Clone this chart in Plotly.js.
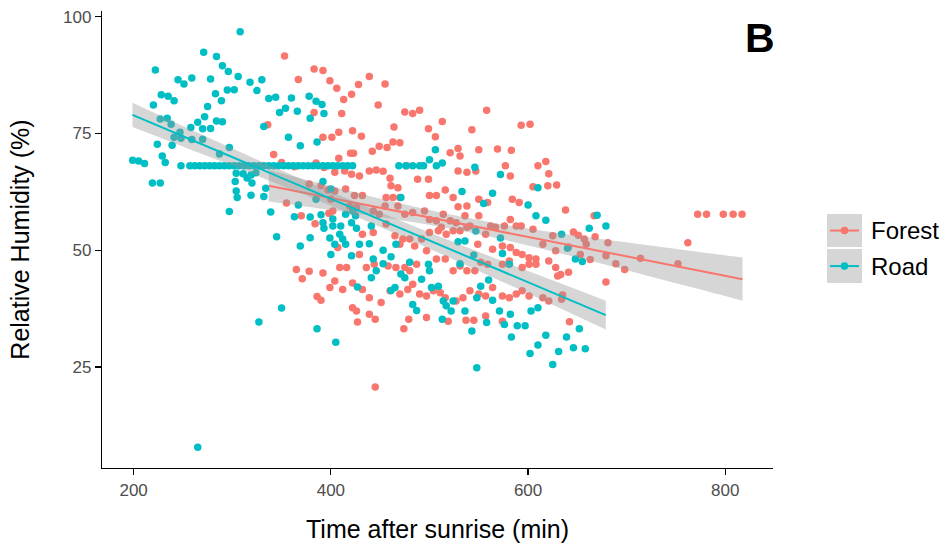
<!DOCTYPE html>
<html><head><meta charset="utf-8">
<script src="https://cdn.plot.ly/plotly-3.0.1.min.js"></script>
<style>body{margin:0;background:#fff}#chart{width:947px;height:552px}</style>
</head><body><div id="chart"></div>
<script>
// Forest points [time after sunrise (min), relative humidity (%)]
const forestPts = [
[353,91.6],[383,88.8],[392,88.5],[399,86.3],[367,86.6],[383,79.5],[336,76.9],[392,74.2],[401,74.2],[342,70.5],[350,68.8],[385,68.7],[363,67.9],[393,67.7],
[406,84.7],[413,82.3],[421,83.4],[428,85.5],[439,87.2],[455,85.6],[411,79.3],[448,81.1],[475,79.6],[483,79.3],[490,80.0],[513,77.6],[499,76.0],[506,74.3],[464,76.4],[408,75.3],[422,75.6],[431,74.4],[558,80.0],[543,75.8],[593,76.8],[602,77.0],[463,73.2],[470,73.0],[449,72.3],[457,72.0],[442,71.2],[420,70.8],[423,70.8],[408,69.7],[521,70.9],[529,71.8],[531,70.2],[550,71.5],[569,71.7],[583,71.4],[577,68.1],[610,68.1],[618,69.0],[477,68.1],
[355,60.1],[370,57.4],[384,55.7],[378,64.2],[390,63.8],[397,62.9],[398,57.9],[365,45.9],[378,45.5],[371,43.9],[392,45.1],[399,42.0],[386,40.1],[390,39.3],
[404,66.7],[414,67.0],[421,66.3],[429,65.9],[439,67.0],[446,67.2],[453,66.9],[460,65.4],[488,65.2],[499,65.2],[529,67.0],[538,66.7],[547,67.0],[582,65.9],[621,66.4],
[415,63.1],[404,62.7],[400,60.9],[424,61.7],[432,61.7],[461,63.8],[468,63.4],[456,61.3],[463,61.3],[470,61.3],[500,61.7],[507,61.7],[516,62.9],[524,61.3],[529,59.3],[538,59.5],[550,60.9],[559,60.2],[584,60.9],[591,60.2],[605,63.6],[620,63.8],
[402,58.4],[419,59.5],[426,59.1],[443,58.4],[449,57.7],[455,59.5],[468,59.5],[475,57.7],[483,58.1],[495,58.4],[500,56.6],[507,56.3],[514,57.7],[521,56.3],[527,55.9],[536,57.4],[541,55.2],[550,57.4],[562,55.2],[567,54.9],[576,55.2],[582,56.6],[588,55.2],[593,55.2],[605,54.5],[625,53.1],
[407,50.6],[432,53.4],[443,53.8],[456,55.6],[465,53.1],[470,51.3],[473,52.4],[480,52.4],[485,50.9],[492,52.4],[500,53.8],[509,54.2],[512,54.9],[517,53.4],[524,54.2],[531,54.2],[538,54.9],[549,51.3],[557,53.4],[564,50.2],[574,50.9],[582,50.6],[588,49.5],[594,49.1],[601,48.4],[608,48.1],[615,51.3],[621,47.7],[628,49.9],
[409,46.3],[416,46.3],[429,49.1],[436,46.3],[444,47.0],[458,46.6],[466,46.3],[475,46.3],[480,45.6],[487,47.0],[497,49.9],[507,48.1],[516,48.1],[524,45.6],[531,46.6],[538,45.6],[546,45.6],[552,47.4],[559,47.0],[574,47.0],[581,47.7],[594,46.3],[601,47.0],[608,47.0],[628,46.3],
[404,43.4],[422,43.0],[412,41.6],[432,41.6],[439,39.8],[451,38.8],[460,41.3],[470,40.6],[478,41.6],[483,42.7],[490,40.6],[497,40.2],[504,41.3],[511,40.9],[516,39.8],[527,39.1],[534,39.8],[541,41.3],[550,40.6],[557,40.2],[564,42.0],[574,40.2],[581,39.8],[588,40.6],[594,41.3],[601,40.2],[615,39.8],[621,39.1],[422,37.7],[426,37.0],[439,36.3],[497,35.6],[519,34.8],[557,35.9],[574,34.8],
[427,34.6],[445,35.2],[474,33.2],[445,20.7],[479,35.2],[537,35.0],[545,35.0],[642,34.7],
[629,64.0],[638,58.6],[667,57.4],[772,57.7],[781,57.7],[798,57.7],[808,57.7],[817,57.7],[762,51.6],[752,47.1],[714,48.3],[698,45.9],[689,47.1],[679,43.2],[681,51.6],[679,48.8],[668,52.9],[663,48.0],[653,49.1],[659,51.3],[657,52.4],[646,53.9],[651,53.2],[641,50.7],[641,45.3],[633,44.8],[630,44.5],[634,39.5],[635,40.4]
];
// Road points
const roadPts = [
[308,96.8],[271,92.4],[284,91.5],[290,89.5],[296,88.3],[306,87.2],[222,88.6],[245,86.5],[251,85.6],[259,86.9],[278,86.7],[228,83.3],[235,83.0],[241,82.0],[220,81.1],[283,83.5],[289,82.0],[295,84.3],[302,84.4],[318,86.0],[330,86.5],[325,84.2],[275,80.8],[272,78.6],[284,77.7],[290,77.5],[337,82.5],[344,82.8],[360,82.6],[348,79.5],[354,80.4],[366,79.8],[378,83.0],[385,81.9],[391,81.2],[393,79.3],[379,78.3],[332,76.5],[227,78.1],[234,78.3],[238,77.0],[258,76.3],[265,77.4],[270,76.0],[278,76.1],[247,75.3],[241,74.2],[248,74.0],[259,73.7],[270,73.8],[224,72.7],[239,72.5],[229,70.2],[232,68.8],[199,69.3],[205,69.1],[211,68.6],[357,74.2],[369,72.4],[386,73.2],[297,72.0],[287,70.6],[248,68.1],
[257,68.1],[262,68.1],[267,68.1],[272,68.1],[277,68.1],[282,68.1],[287,68.1],[292,68.1],[297,68.1],[302,68.1],[307,68.1],[312,68.1],[317,68.1],[322,68.1],[327,68.1],[332,68.1],[337,68.1],[342,68.1],[347,68.1],[352,68.1],[357,68.1],[362,68.1],[367,68.1],[372,68.1],[377,68.1],[382,68.1],[387,68.1],[392,68.1],[397,68.1],[402,68.1],[407,68.1],[412,68.1],[417,68.1],[422,68.1],
[469,68.1],[476,68.1],[483,68.1],[490,68.1],[494,68.1],[507,68.1],[513,68.7],[506,71.5],[500,69.4],[546,67.8],
[219,64.4],[227,64.4],[303,64.7],[304,62.7],[305,61.3],[297,58.3],[319,61.8],[320,64.4],[315,65.5],[332,61.5],[334,63.3],[339,58.2],[345,52.9],[350,37.6],[327,34.6],[363,57.2],[367,59.7],[379,57.1],[369,50.9],[379,52.7],[390,57.6],[392,55.9],[393,54.7],[399,52.6],[400,49.1],[385,60.9],[392,64.7],
[304,66.5],[311,66.4],[319,66.1],[324,66.6],[386,33.2],[265,7.8],
[572,66.2],[400,63.1],[471,61.3],[533,62.6],[555,60.0],[564,62.2],[600,59.7],[608,57.4],[618,56.4],[610,63.4],[402,56.7],[402,55.2],[410,55.2],[415,57.7],[422,58.4],[425,57.4],[421,55.9],[426,54.7],[441,55.2],[409,53.4],[412,52.4],[415,51.3],[404,51.3],[429,51.3],[439,51.4],[421,48.8],[453,50.0],[461,48.6],[453,47.1],[443,48.1],[446,45.6],[441,44.1],[427,42.1],[466,51.3],[471,44.9],[475,44.1],[465,42.0],[461,41.4],[480,47.4],[492,43.8],[500,45.6],[499,47.0],[502,42.0],[509,42.3],[483,38.4],[487,37.1],[514,39.1],[517,38.1],[522,37.0],[524,39.1],[536,37.0],[531,47.1],[536,52.0],[529,51.8],[547,54.1],[545,49.0],[552,42.3],[560,43.6],[564,39.3],[548,39.8],[571,37.0],[582,36.3],[603,37.0],[610,37.7],[572,52.6],[574,49.3],[581,47.0],
[670,57.5],[679,55.2],[662,54.7],[634,53.4],[640,50.4],[648,48.1],[655,47.6],
[405,30.3],[543,32.7],[558,34.5],[548,24.8],[576,34.1],[583,31.4],[589,33.8],[597,33.8],[602,27.9],[610,29.7],[618,31.8],[625,25.5],[631,28.3],[652,33.2],[639,31.4],[646,29.1],[658,28.9],[513,35.2]
];
// Linear fits with 95% confidence bands
const forestFitX  = [337, 370, 420, 470, 520, 570, 620, 670, 720, 770, 817.5];
const forestFitY  = [63.80, 62.43, 60.35, 58.26, 56.18, 54.10, 52.02, 49.94, 47.86, 45.78, 43.80];
const forestFitLo = [60.43, 59.50, 58.05, 56.47, 54.67, 52.50, 50.01, 47.35, 44.61, 41.83, 39.16];
const forestFitHi = [67.17, 65.36, 62.65, 60.05, 57.69, 55.70, 54.03, 52.53, 51.11, 49.73, 48.44];
const roadFitX  = [198.8, 240, 280, 320, 360, 400, 440, 480, 520, 560, 600, 640, 678.8];
const roadFitY  = [79.00, 75.32, 71.74, 68.17, 64.59, 61.02, 57.44, 53.87, 50.29, 46.72, 43.14, 39.57, 36.10];
const roadFitLo = [76.41, 73.05, 69.75, 66.42, 63.01, 59.52, 55.91, 52.21, 48.43, 44.60, 40.72, 36.82, 33.02];
const roadFitHi = [81.59, 77.59, 73.73, 69.92, 66.17, 62.52, 58.97, 55.53, 52.15, 48.84, 45.56, 42.32, 39.18];

const seriesNames = ['Forest', 'Road'];
const xTickVals = [200, 400, 600, 800];
const yTickVals = [25, 50, 75, 100];
const panelLabel = 'B';

const RED = '#F8766D', TEAL = '#00BFC4', BAND = 'rgba(153,153,153,0.4)';
const FONT = '"Liberation Sans", Arial, Helvetica, sans-serif';

const traces = [
  {x: forestPts.map(p=>p[0]), y: forestPts.map(p=>p[1]), type:'scatter', mode:'markers',
   marker:{color:RED, size:7.5, line:{width:0}}, name:seriesNames[0], showlegend:false},
  {x: roadPts.map(p=>p[0]), y: roadPts.map(p=>p[1]), type:'scatter', mode:'markers',
   marker:{color:TEAL, size:7.5, line:{width:0}}, name:seriesNames[1], showlegend:false},
  {x: forestFitX, y: forestFitLo, type:'scatter', mode:'lines', line:{width:0, shape:'spline'}, showlegend:false, hoverinfo:'skip'},
  {x: forestFitX, y: forestFitHi, type:'scatter', mode:'lines', line:{width:0, shape:'spline'}, fill:'tonexty', fillcolor:BAND, showlegend:false, hoverinfo:'skip'},
  {x: forestFitX, y: forestFitY, type:'scatter', mode:'lines', line:{color:RED, width:2}, showlegend:false},
  {x: roadFitX, y: roadFitLo, type:'scatter', mode:'lines', line:{width:0, shape:'spline'}, showlegend:false, hoverinfo:'skip'},
  {x: roadFitX, y: roadFitHi, type:'scatter', mode:'lines', line:{width:0, shape:'spline'}, fill:'tonexty', fillcolor:BAND, showlegend:false, hoverinfo:'skip'},
  {x: roadFitX, y: roadFitY, type:'scatter', mode:'lines', line:{color:TEAL, width:2}, showlegend:false}
];

// Manual ggplot-style legend (keys with grey band background, line and dot)
const PW = 671, PH = 456.5;
const keyX0 = (827-102)/PW, keyX1 = (862-102)/PW;
const keyTops = [214, 249], keyBots = [247, 283];
const keyCols = [RED, TEAL];
const shapes = [], annotations = [];
const yPaper = py => (467.7 - py)/PH;
seriesNames.forEach((nm, i) => {
  const yc = (keyTops[i] + keyBots[i]) / 2;
  shapes.push({type:'rect', xref:'paper', yref:'paper', x0:keyX0, x1:keyX1, y0:yPaper(keyBots[i]), y1:yPaper(keyTops[i]),
               fillcolor:BAND, line:{width:0}, layer:'above'});
  shapes.push({type:'line', xref:'paper', yref:'paper', x0:(830-102)/PW, x1:(859-102)/PW, y0:yPaper(yc), y1:yPaper(yc),
               line:{color:keyCols[i], width:2}, layer:'above'});
  shapes.push({type:'circle', xref:'paper', yref:'paper', x0:(840.7-102)/PW, x1:(848.3-102)/PW, y0:yPaper(yc+3.8), y1:yPaper(yc-3.8),
               fillcolor:keyCols[i], line:{width:0}, layer:'above'});
  annotations.push({xref:'paper', yref:'paper', x:(869-102)/PW, y:yPaper(yc), xanchor:'left', yanchor:'middle',
                    text:nm, showarrow:false, font:{family:FONT, size:24, color:'#000'}});
});
annotations.push({xref:'paper', yref:'paper', x:(760-102)/PW, y:yPaper(38), xanchor:'center', yanchor:'middle',
                  text:'<b>'+panelLabel+'</b>', showarrow:false, font:{family:FONT, size:41, color:'#000'}});

const layout = {
  width:947, height:552,
  margin:{l:102, r:174, t:11, b:84},
  paper_bgcolor:'#fff', plot_bgcolor:'#fff',
  font:{family:FONT},
  showlegend:false,
  xaxis:{range:[167.9, 848.4], tickvals:xTickVals, ticktext:xTickVals.map(String),
         showgrid:false, zeroline:false, showline:true, linecolor:'#000', linewidth:1.2,
         ticks:'outside', ticklen:6, tickwidth:1.2, tickcolor:'#000',
         tickfont:{family:FONT, size:17, color:'#4D4D4D'},
         title:{text:'Time after sunrise (min)', font:{family:FONT, size:25, color:'#000'}, standoff:22}},
  yaxis:{range:[3.35, 101.25], tickvals:yTickVals, ticktext:yTickVals.map(String),
         showgrid:false, zeroline:false, showline:true, linecolor:'#000', linewidth:1.2,
         ticks:'outside', ticklen:6, tickwidth:1.2, tickcolor:'#000',
         tickfont:{family:FONT, size:17, color:'#4D4D4D'},
         title:{text:'Relative Humidity (%)', font:{family:FONT, size:25, color:'#000'}, standoff:26}},
  shapes: shapes, annotations: annotations
};
Plotly.newPlot('chart', traces, layout, {staticPlot:true, displayModeBar:false});
</script>
</body></html>
